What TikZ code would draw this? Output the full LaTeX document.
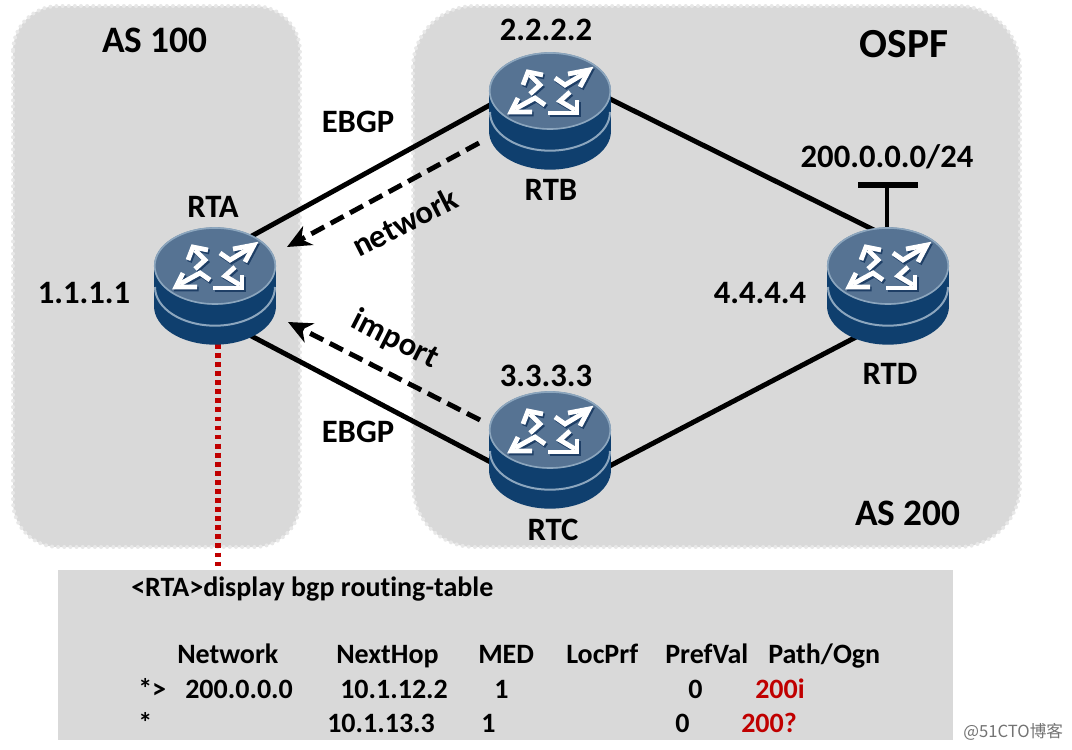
\documentclass[tikz,border=0pt]{standalone}
\usepackage{fontspec}
\setmainfont[Ligatures=NoCommon]{Carlito}
\newfontfamily\cjkmark{Noto Sans CJK SC}
\usetikzlibrary{calc,arrows.meta}
\definecolor{zonegrey}{HTML}{D9D9D9}
\definecolor{routerside}{HTML}{0F3F6E}
\definecolor{routerface}{HTML}{567393}
\definecolor{routerrim}{HTML}{8CA6BE}
\definecolor{routershadow}{HTML}{1F3F66}
\definecolor{alertred}{HTML}{C00000}
\tikzset{
  x=0.75pt, y=-0.75pt,
  zone/.style={fill=zonegrey, draw=zonegrey!60!white, line width=3pt, line cap=round,
    dash pattern=on 0pt off 4.6pt},
  hub/.style={rectangle, minimum width=91.5pt, minimum height=88.5pt, inner sep=0pt, outer sep=0pt},
  link/.style={line width=3.7pt, black},
  flow/.style={line width=3.7pt, black, dash pattern=on 11pt off 5.5pt,
    -{Stealth[length=18pt,width=16pt]}},
  probe/.style={line width=4.2pt, alertred, dash pattern=on 3.6pt off 3.2pt},
  big/.style={font=\bfseries\fontsize{28}{32}\selectfont, inner sep=0pt},
  mid/.style={font=\bfseries\fontsize{24.5}{28}\selectfont, inner sep=0pt},
  tab/.style={font=\bfseries\fontsize{21}{24}\selectfont, inner sep=0pt, anchor=base west},
  panel/.style={rectangle, fill=zonegrey, minimum width=671.25pt, minimum height=127.5pt, inner sep=0pt},
}
% One router drawn around a hub centre: a two-deck cylinder with four white arrows on top
\newcommand{\routerbody}[1]{%
  \begin{scope}[shift={(#1)}]
    \fill[routerside] (0,20) ellipse [x radius=45.75pt, y radius=29pt];
    \fill[routerside] (-61,-20) rectangle (61,20);
    \draw[routerrim, line width=1.5pt] (-60,1) arc [start angle=180, end angle=360, x radius=45pt, y radius=29pt];
    \fill[routerface] (0,-20) ellipse [x radius=45.75pt, y radius=29pt];
    \draw[routerrim, line width=1.2pt] (0,-20) ellipse [x radius=45.2pt, y radius=28.5pt];
    \begin{scope}[shift={(0,-20)}]
      \foreach \off/\col in {1.5/routershadow, 0/white}{
        \begin{scope}[shift={(\off,\off*1.3)}, draw=\col, line width=3.6pt, miter limit=6]
          \draw (-27,-6) -- (-22,-19) -- (-7,-16);
          \draw (-20,-16) -- (-10,-6) -- (-20,3);
          \draw (18,-17) -- (39,-21) -- (30,-4);
          \draw (35,-18) -- (15,-6) -- (5,-13);
          \draw (-32,7) -- (-39,21) -- (-18,21);
          \draw (-35,18) -- (-15,7) -- (-5,14);
          \draw (-2,22) -- (27,22) -- (27,9);
          \draw (25,19) -- (10,10) -- (20,1);
        \end{scope}
      }
    \end{scope}
  \end{scope}%
}
\begin{document}
\begin{tikzpicture}
  \useasboundingbox (0,0) rectangle (1072,750);

  % Autonomous system zones
  \fill[zonegrey] (14,7) [rounded corners=34pt] rectangle (299,546);
  \fill[zonegrey] (414,7) [rounded corners=46pt] rectangle (1019,546);
  \path[zone] (13,6) [rounded corners=34pt] rectangle (300,547);
  \path[zone] (413,6) [rounded corners=46pt] rectangle (1020,547);

  % Router anchors and the routing table panel
  \node[hub] (RTA) at (215,286) {};
  \node[hub] (RTB) at (550,111) {};
  \node[hub] (RTC) at (550,450) {};
  \node[hub] (RTD) at (888,286) {};
  \node[panel] (table) at (505.5,655) {};
  \coordinate (stub) at (887,185);
  \coordinate (barL) at (858,185);
  \coordinate (barR) at (918,185);
  \coordinate (probeTop) at ($(RTA)+(3,58)$);

  % Links between routers
  \draw[link] ($(RTA)+(25,-43.5)$) -- ($(RTB)+(-50,-11.5)$);
  \draw[link] ($(RTA)+(25,44)$) -- ($(RTC)+(-50,17)$);
  \draw[link] ($(RTB)+(50,-17)$) -- ($(RTD)+(-8,-53)$);
  \draw[link] ($(RTC)+(50,21)$) -- ($(RTD)+(-28,49)$);
  \draw[link] ($(RTD)+(-1,-50)$) -- (stub);
  \draw[link, line width=4.2pt] (barL) -- (barR);

  % Route advertisement arrows
  \draw[flow] ($(RTB)+(-71,32)$) -- ($(RTA)+(72,-39)$);
  \draw[flow] ($(RTC)+(-70,-30)$) -- ($(RTA)+(73,36)$);

  % Dotted lead from RTA to its routing table
  \draw[probe] (probeTop) -- (probeTop |- table.north);

  \routerbody{RTA}
  \routerbody{RTB}
  \routerbody{RTC}
  \routerbody{RTD}

  % Zone and router labels
  \node[big] (lAS100) at (155,40) {AS 100};
  \node[big, font=\bfseries\fontsize{31}{34}\selectfont] (lOSPF) at (904,44) {OSPF};
  \node[big] (lAS200) at (908,513) {AS 200};
  \node[mid] (lB) at (551,190) {RTB};
  \node[mid] (lA) at (213,207) {RTA};
  \node[mid] (lC) at (553,530) {RTC};
  \node[mid] (lD) at (890,374) {RTD};
  \node[mid] (ipB) at (546,30) {2.2.2.2};
  \node[mid] (ipA) at (84,293) {1.1.1.1};
  \node[mid] (ipD) at (760,293) {4.4.4.4};
  \node[mid] (ipC) at (546,376) {3.3.3.3};
  \node[mid] (prefix) at (887,157) {200.0.0.0/24};
  \node[mid] (e1) at (358,122) {EBGP};
  \node[mid] (e2) at (358,432) {EBGP};
  \node[mid, rotate=27] (nw) at (405,222) {network};
  \node[mid, rotate=-27] (imp) at (395,340) {import};

  % Routing table output
  \node[tab] (t0) at (131,596) {<RTA>display bgp routing-table};
  \node[tab] (h1) at (177,663) {Network};
  \node[tab] (h2) at (336,663) {NextHop};
  \node[tab] (h3) at (478,663) {MED};
  \node[tab] (h4) at (566,663) {LocPrf};
  \node[tab] (h5) at (665,663) {PrefVal};
  \node[tab] (h6) at (768,663) {Path/Ogn};
  \node[tab] (a0) at (138,698) {*>};
  \node[tab] (a1) at (185,698) {200.0.0.0};
  \node[tab] (a2) at (340,698) {10.1.12.2};
  \node[tab] (a3) at (494,698) {1};
  \node[tab] (a4) at (688,698) {0};
  \node[tab, text=alertred] (a5) at (755,698) {200i};
  \node[tab] (b0) at (138,732) {*};
  \node[tab] (b2) at (327,732) {10.1.13.3};
  \node[tab] (b3) at (481,732) {1};
  \node[tab] (b4) at (675,732) {0};
  \node[tab, text=alertred] (b5) at (741,732) {200?};

  % Site mark
  \node[inner sep=0pt, anchor=base west, text=black!55, font=\cjkmark\fontsize{12.5}{14}\selectfont] (mark) at (963,737) {@51CTO博客};
\end{tikzpicture}
\end{document}
